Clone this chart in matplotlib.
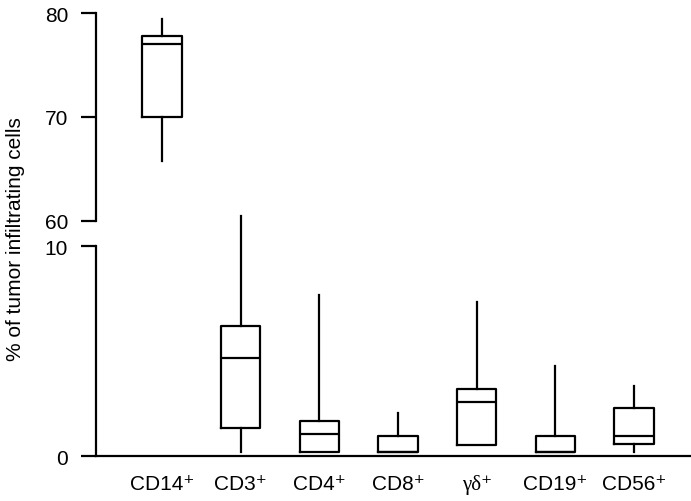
import matplotlib
matplotlib.use("Agg")
import matplotlib.pyplot as plt

plt.rcParams['font.family'] = ['Liberation Sans', 'DejaVu Sans']

# box statistics (% of tumor infiltrating cells)
labels = ['CD14⁺', 'CD3⁺', 'CD4⁺', 'CD8⁺', 'γδ⁺', 'CD19⁺', 'CD56⁺']
whislo = [65.8, 0.19, 0.19, 0.19, 0.52, 0.19, 0.19]
q1 = [70.0, 1.33, 0.19, 0.19, 0.52, 0.19, 0.57]
med = [77.0, 4.67, 1.05, 0.19, 2.57, 0.19, 0.95]
q3 = [77.8, 6.19, 1.67, 0.95, 3.19, 0.95, 2.29]
whishi = [79.4, 11.43, 7.67, 2.05, 7.33, 4.29, 3.33]

stats = [dict(label=l, whislo=a, q1=b, med=c, q3=d, whishi=e)
         for l, a, b, c, d, e in zip(labels, whislo, q1, med, q3, whishi)]
positions = list(range(1, len(labels) + 1))

fig = plt.figure(figsize=(6.91, 5.02), dpi=100)
ax_top = fig.add_axes([0.1389, 0.5578, 0.8611, 0.4143])
ax_bot = fig.add_axes([0.1389, 0.0896, 0.8611, 0.4183])

props = dict(color='black', linewidth=1.6)
kw = dict(widths=0.5, showcaps=False, showfliers=False, boxprops=props,
          medianprops=props, whiskerprops=props, manage_ticks=False)
ax_top.bxp(stats[:1], positions=positions[:1], **kw)
parts = ax_bot.bxp(stats[1:], positions=positions[1:], **kw)
for key in parts:
    for art in parts[key]:
        art.set_clip_on(False)

xlim = (0.16, 7.725)
for ax in (ax_top, ax_bot):
    ax.set_xlim(*xlim)
    ax.spines['top'].set_visible(False)
    ax.spines['right'].set_visible(False)
    ax.spines['left'].set_linewidth(1.6)
    ax.spines['bottom'].set_linewidth(1.6)
    ax.tick_params(axis='y', length=11, width=1.6, pad=9, labelsize=15)

ax_top.set_ylim(60, 80)
ax_top.set_yticks([60, 70, 80])
ax_top.spines['bottom'].set_visible(False)
ax_top.spines['left'].set_bounds(60, 80)
ax_top.set_xticks([])

ax_bot.set_ylim(0, 10)
ax_bot.set_yticks([0, 10])
ax_bot.spines['left'].set_bounds(0, 10)
ax_bot.set_xticks(positions)
ax_bot.set_xticklabels(labels)
ax_bot.tick_params(axis='x', length=0, pad=13, labelsize=15)
ax_bot.get_xticklabels()[4].set_fontfamily(['Liberation Serif', 'DejaVu Serif'])

fig.text(0.022, 0.524, '% of tumor infiltrating cells', rotation=90,
         ha='center', va='center', fontsize=15)

fig.savefig('out.png', dpi=100)
